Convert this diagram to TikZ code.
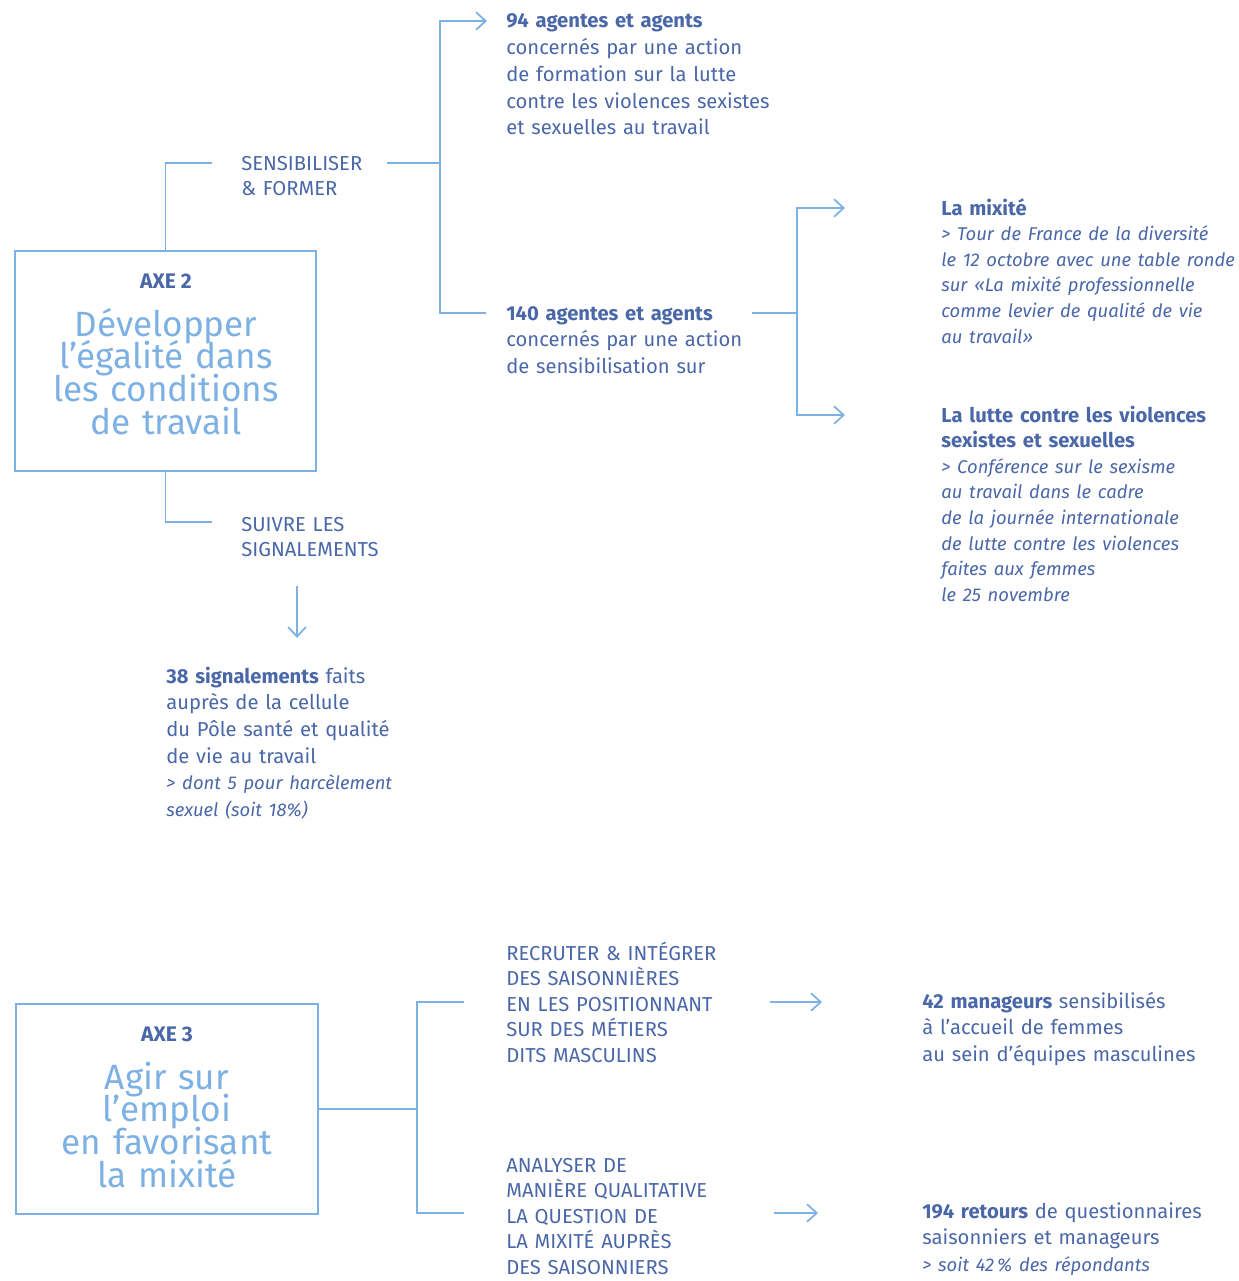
\documentclass[tikz,border=0pt]{standalone}
\usepackage{fontspec}
\setmainfont{Fira Sans}
\usetikzlibrary{arrows.meta}
\definecolor{navy}{HTML}{4A67A8}
\definecolor{sky}{HTML}{7DB1E3}
\newcommand\notefont[1]{\itshape\fontsize{10.5}{#1}\selectfont}
\newcommand\titlefont{\fontsize{20}{18.7}\selectfont\lineskiplimit=-10pt\relax}

\begin{document}
\begin{tikzpicture}[x=0.02cm, y=-0.02cm,
  link/.style={draw=sky, line width=1pt},
  arr/.style={link, -{Straight Barb[length=5.5pt,width=10pt]}},
  axebox/.style={draw=sky, line width=1pt, minimum width=6.02cm, minimum height=4.4cm, inner sep=0pt},
  axelabel/.style={navy, font=\bfseries\fontsize{12}{14}\selectfont, anchor=base, inner sep=0pt},
  axetitle/.style={sky, font=\titlefont, align=center, text width=6cm, anchor=base, inner sep=0pt},
  txt/.style={navy, font=\fontsize{11.5}{15.2}\selectfont, align=left, text width=7cm, anchor=base west, inner sep=0pt},
  lbl/.style={txt, font=\fontsize{11.5}{14.6}\selectfont},
  note/.style={txt, font=\fontsize{11.5}{14.6}\selectfont}]
\useasboundingbox (0,0) rectangle (1239,1281);

\node[axebox] (axe2) at (165.5,361) {};
\node[axelabel] (axe2lbl) at (166,288) {AXE 2};
\node[axetitle] (axe2ttl) at (166,336) {Développer\\l’égalité dans\\les conditions\\de travail};

\node[lbl] (sens) at (241,170) {SENSIBILISER\\\& FORMER};
\node[lbl] (suivi) at (241,531) {SUIVRE LES\\SIGNALEMENTS};
\node[txt] (n94) at (506,28) {\textbf{94 agentes et agents}\\concernés par une action\\de formation sur la lutte\\contre les violences sexistes\\et sexuelles au travail};
\node[txt] (n140) at (506,320) {\textbf{140 agentes et agents}\\concernés par une action\\de sensibilisation sur};
\node[note] (mixite) at (941,215) {\textbf{La mixité}\\\notefont{14.6} > Tour de France de la diversité\\le 12 octobre avec une table ronde\\sur «La mixité professionnelle\\comme levier de qualité de vie\\au travail»};
\node[note] (vss) at (941,422) {\textbf{La lutte contre les violences}\\\textbf{sexistes et sexuelles}\\\notefont{14.6} > Conférence sur le sexisme\\au travail dans le cadre\\de la journée internationale\\de lutte contre les violences\\faites aux femmes\\le 25 novembre};
\node[txt] (n38) at (166,683) {\textbf{38 signalements} faits\\auprès de la cellule\\du Pôle santé et qualité\\de vie au travail\\\notefont{15.2} > dont 5 pour harcèlement\\sexuel (soit 18\%)};

\coordinate (sensA) at (212,163);
\coordinate (sensB) at (387,163);
\coordinate (f1) at (440,163);
\coordinate (to94) at (487,21);
\coordinate (to140) at (486,313);
\coordinate (from140) at (752,313);
\coordinate (f2) at (797,313);
\coordinate (tomix) at (845,208);
\coordinate (tovss) at (845,415);
\coordinate (suiA) at (212,522);
\coordinate (suiB) at (297,586);
\coordinate (to38) at (297,638);

\draw[link] (axe2.north) |- (sensA);
\draw[link] (sensB) -- (f1);
\draw[arr] (f1) |- (to94);
\draw[link] (f1) |- (to140);
\draw[link] (from140) -- (f2);
\draw[arr] (f2) |- (tomix);
\draw[arr] (f2) |- (tovss);
\draw[link] (axe2.south) |- (suiA);
\draw[arr] (suiB) -- (to38);

\node[axebox, minimum width=6.04cm, minimum height=4.2cm] (axe3) at (167,1109) {};
\node[axelabel] (axe3lbl) at (167,1041) {AXE 3};
\node[axetitle] (axe3ttl) at (167,1089) {Agir sur\\l’emploi\\en favorisant\\la mixité};

\node[lbl] (recruter) at (506,960) {RECRUTER \& INTÉGRER\\DES SAISONNIÈRES\\EN LES POSITIONNANT\\SUR DES MÉTIERS\\DITS MASCULINS};
\node[lbl] (analyser) at (506,1172) {ANALYSER DE\\MANIÈRE QUALITATIVE\\LA QUESTION DE\\LA MIXITÉ AUPRÈS\\DES SAISONNIERS};
\node[txt] (n42) at (922,1008) {\textbf{42 manageurs} sensibilisés\\à l’accueil de femmes\\au sein d’équipes masculines};
\node[txt] (n194) at (922,1218) {\textbf{194 retours} de questionnaires\\saisonniers et manageurs\\\notefont{15.2} > soit 42\,\% des répondants};

\coordinate (f3) at (417,1109);
\coordinate (torec) at (464,1002);
\coordinate (toana) at (464,1213);
\coordinate (recB) at (770,1002);
\coordinate (to42) at (822,1002);
\coordinate (anaB) at (774,1213);
\coordinate (to194) at (818,1213);

\draw[link] (axe3.east) -- (f3);
\draw[link] (f3) |- (torec);
\draw[link] (f3) |- (toana);
\draw[arr] (recB) -- (to42);
\draw[arr] (anaB) -- (to194);
\end{tikzpicture}
\end{document}
